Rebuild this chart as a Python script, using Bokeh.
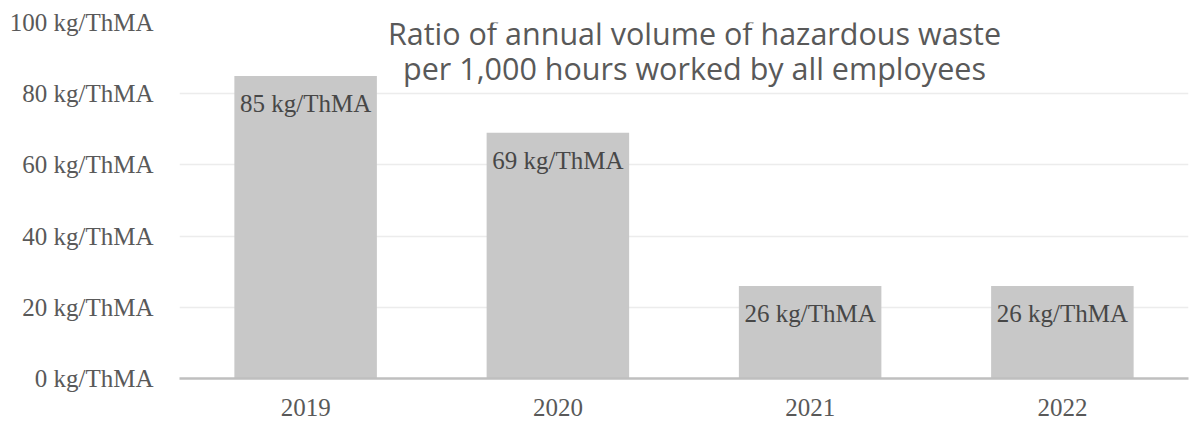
from bokeh.plotting import figure
from bokeh.models import ColumnDataSource, Label, SingleIntervalTicker, CustomJSTickFormatter, Range1d
from bokeh.core.properties import value
from bokeh.embed import file_html
from bokeh.resources import INLINE

years = ["2019", "2020", "2021", "2022"]
values = [85, 69, 26, 26]
value_labels = ["85 kg/ThMA", "69 kg/ThMA", "26 kg/ThMA", "26 kg/ThMA"]
title_lines = ["Ratio of annual volume of hazardous waste",
               "per 1,000 hours worked by all employees"]

SERIF = "Liberation Serif"
SANS = "Open Sans"
TXT = "#595959"

src = ColumnDataSource(dict(x=years, top=values, lab=value_labels))

p = figure(x_range=years, y_range=Range1d(0, 100), width=1192, height=424,
           output_backend="svg", toolbar_location=None,
           min_border_left=179, min_border_right=4, min_border_top=22, min_border_bottom=46)
p.outline_line_color = None
p.background_fill_color = "white"
p.border_fill_color = "white"

p.vbar(x="x", top="top", width=0.565, source=src, color="#c8c8c8", line_color=None)
p.text(x="x", y="top", text="lab", source=src, y_offset=28,
       text_align="center", text_baseline="middle",
       text_font=value(SERIF), text_font_size="25px", text_color="#474747")

p.yaxis.ticker = SingleIntervalTicker(interval=20)
p.yaxis.formatter = CustomJSTickFormatter(code="return tick.toFixed(0) + ' kg/ThMA';")
p.yaxis.axis_line_color = None
p.yaxis.major_tick_line_color = None
p.yaxis.minor_tick_line_color = None
p.yaxis.major_label_standoff = 20
p.yaxis.major_label_text_font = SERIF
p.yaxis.major_label_text_font_size = "25px"
p.yaxis.major_label_text_color = TXT

p.xaxis.axis_line_color = "#bfbfbf"
p.xaxis.axis_line_width = 2.5
p.xaxis.major_tick_line_color = None
p.xaxis.minor_tick_line_color = None
p.xaxis.major_label_standoff = 14
p.xaxis.major_label_text_font = SERIF
p.xaxis.major_label_text_font_size = "25px"
p.xaxis.major_label_text_color = TXT

p.xgrid.grid_line_color = None
p.ygrid.grid_line_color = "#ececec"
p.ygrid.grid_line_width = 1.5

for i, t in enumerate(title_lines):
    p.add_layout(Label(x=515, y=346 - 35 * i, x_units="screen", y_units="screen",
                       text=t, text_align="center", text_baseline="middle",
                       text_font=SANS, text_font_size="30.5px", text_color=TXT))

open("out.html", "w").write(file_html(p, INLINE))
